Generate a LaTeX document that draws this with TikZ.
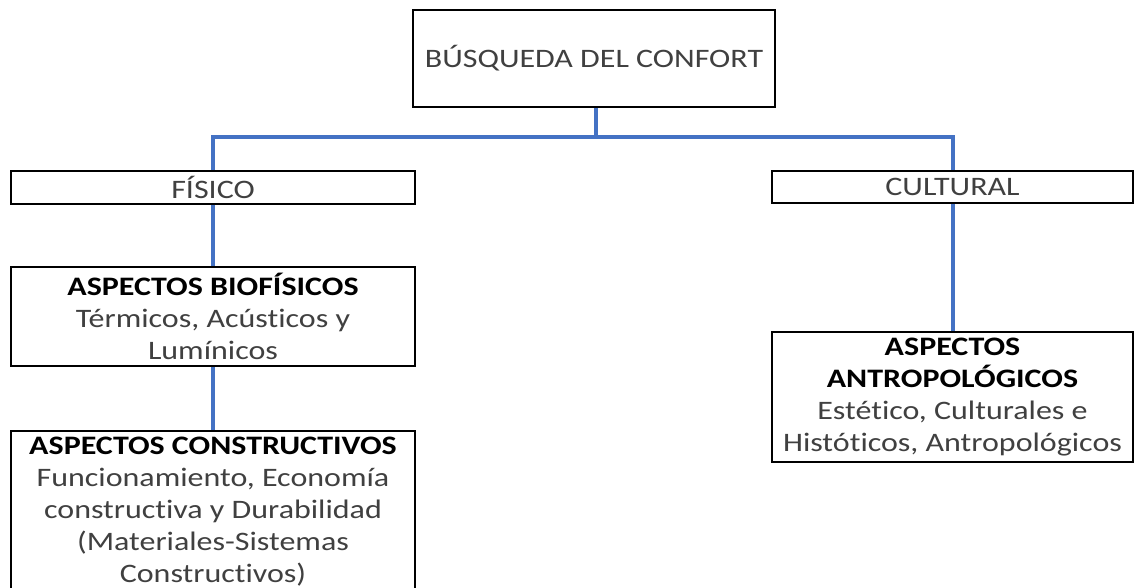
\documentclass[tikz,border=0pt]{standalone}
\usepackage{fontspec}
\setmainfont{Carlito}[FakeStretch=1.2, Ligatures=NoCommon]
\usetikzlibrary{positioning}
\definecolor{LinkBlue}{HTML}{4472C4}
\definecolor{TextGray}{HTML}{404040}

\begin{document}
\begin{tikzpicture}[x=0.75pt, y=-0.75pt,
box/.style={
	rectangle,
	draw = black,
	line width = 1.6pt,
	fill = white,
	align = center,
	inner sep = 0pt,
	font = \fontsize{20}{24}\selectfont,
	text = TextGray},
link/.style={
	draw,
	line width = 3pt,
	color = LinkBlue}]

\useasboundingbox[fill = white] (0,0) rectangle (1134,588);

%Boxes

\node[box, minimum width = 271.5pt, minimum height = 72.75pt] (confort) at (594,58.5) {BÚSQUEDA DEL CONFORT};

\node[box, minimum width = 303pt, minimum height = 24.75pt] (fisico) at (213,187.5) {FÍSICO};
\node[box, minimum width = 270.75pt, minimum height = 24pt] (cultural) at (952.5,187) {CULTURAL};

\node[box, minimum width = 303pt, minimum height = 74.25pt] (biofis) at (213,316.5) {\textbf{\color{black}ASPECTOS BIOFÍSICOS}\\ Térmicos, Acústicos y\\ Lumínicos};
\node[box, minimum width = 303pt, minimum height = 121.5pt, anchor = north] (constr) at (213,430) {\textbf{\color{black}ASPECTOS CONSTRUCTIVOS}\\ Funcionamiento, Economía\\ constructiva y Durabilidad\\ (Materiales-Sistemas\\ Constructivos)};
\node[box, minimum width = 270.75pt, minimum height = 97.5pt] (antrop) at (952.5,397) {\textbf{\color{black}ASPECTOS}\\ \textbf{\color{black}ANTROPOLÓGICOS}\\ Estético, Culturales e\\ Históticos, Antropológicos};

%Links

\coordinate (split) at (596,137);

\path[link] (confort.south -| split) -- (split);
\path[link] (split) -| (fisico.north);
\path[link] (split) -| (cultural.north);
\path[link] (fisico) -- (biofis);
\path[link] (biofis) -- (constr);
\path[link] (cultural) -- (antrop);

\end{tikzpicture}
\end{document}
